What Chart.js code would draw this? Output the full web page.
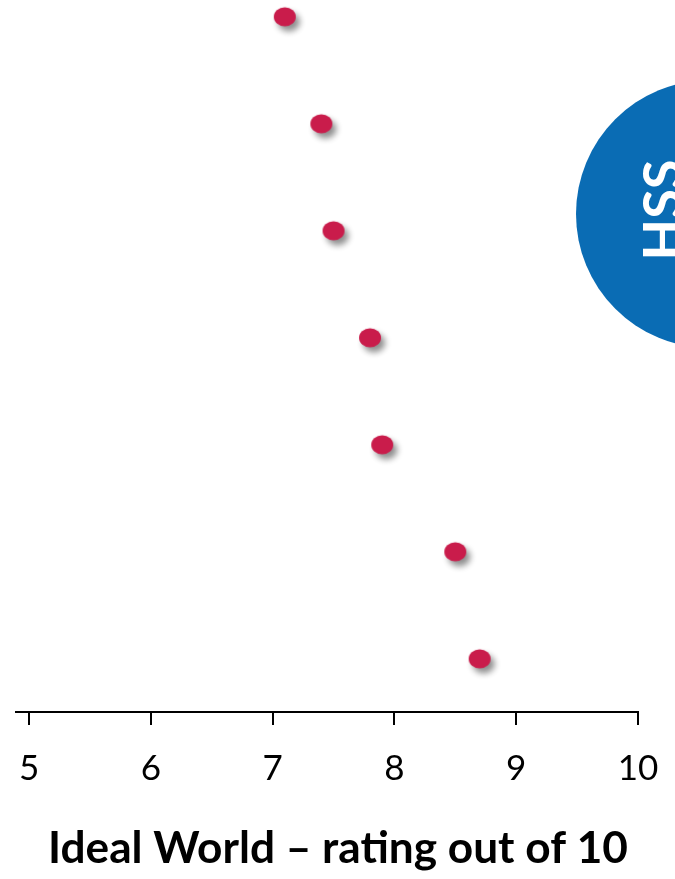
<!DOCTYPE html>
<html>
<head>
<meta charset="utf-8">
<style>
  html, body { margin: 0; padding: 0; background: #fff; }
</style>
<script src="https://cdn.jsdelivr.net/npm/chart.js"></script>
</head>
<body>
<canvas id="idealWorld" width="675" height="879"></canvas>
<script>
// rows top to bottom (category labels are not shown in the picture)
const rows = [1, 2, 3, 4, 5, 6, 7];
const ratings = [7.1, 7.4, 7.5, 7.8, 7.9, 8.5, 8.7];
const xTicks = [5, 6, 7, 8, 9, 10];
const axisTitle = 'Ideal World – rating out of 10';
const badgeText = 'HSS';

//---------------------- Helpers -----------------------//
function makeDot() {
    let c = document.createElement('canvas');
    c.width = 60;
    c.height = 60;
    let g = c.getContext('2d');
    g.shadowColor = 'rgba(0,0,0,0.45)';
    g.shadowBlur = 6;
    g.shadowOffsetX = 4;
    g.shadowOffsetY = 5;
    g.fillStyle = '#c91c4b';
    g.beginPath();
    g.ellipse(30, 30, 11, 9.5, 0, 0, Math.PI * 2);
    g.fill();
    return c;
}

// fit the bold title to the width it has in the picture
function titleFont() {
    let g = document.createElement('canvas').getContext('2d');
    g.font = 'bold 100px Lato';
    let size = 100 * 580 / g.measureText(axisTitle).width;
    return `bold ${size.toFixed(1)}px Lato`;
}

const decor = {
    id: 'decor',
    afterDraw(chart) {
        const ctx = chart.ctx;
        ctx.save();
        // blue badge on the right
        ctx.fillStyle = '#0a6cb4';
        ctx.beginPath();
        ctx.arc(710, 214, 134, 0, Math.PI * 2);
        ctx.fill();
        ctx.save();
        ctx.translate(642, 210);
        ctx.rotate(-Math.PI / 2);
        ctx.fillStyle = '#fff';
        ctx.font = 'bold 54px Lato';
        ctx.textAlign = 'center';
        ctx.textBaseline = 'alphabetic';
        ctx.fillText(badgeText, 0, 40);
        ctx.restore();
        // axis title, centred on the page
        ctx.fillStyle = '#000';
        ctx.font = titleFont();
        ctx.textAlign = 'center';
        ctx.textBaseline = 'alphabetic';
        ctx.fillText(axisTitle, 338, 863);
        ctx.restore();
    }
};

new Chart(document.getElementById('idealWorld'), {
    type: 'scatter',
    data: {
        datasets: [{
            data: ratings.map((v, i) => ({ x: v, y: rows[i] })),
            pointStyle: makeDot(),
            pointRadius: 10,
            clip: false
        }]
    },
    options: {
        responsive: false,
        animation: false,
        devicePixelRatio: 1,
        layout: { padding: { left: 16, right: 37, top: 0, bottom: 0 } },
        plugins: {
            legend: { display: false },
            tooltip: { enabled: false }
        },
        scales: {
            x: {
                type: 'linear',
                position: 'bottom',
                min: 4.893,
                max: 10,
                afterBuildTicks: (s) => { s.ticks = xTicks.map(v => ({ value: v })); },
                afterFit: (s) => { s.height = 879 - 712; },
                border: { display: true, color: '#000', width: 2 },
                grid: {
                    display: true,
                    drawOnChartArea: false,
                    drawTicks: true,
                    tickLength: 13,
                    color: '#000',
                    lineWidth: 2
                },
                ticks: {
                    color: '#000',
                    // tall line height pushes the labels down without widening the side padding
                    font: { family: 'Lato', size: 35, lineHeight: '84px' },
                    padding: 2,
                    maxRotation: 0
                }
            },
            y: {
                type: 'linear',
                display: false,
                reverse: true,
                min: 0.946,
                max: 7.497
            }
        }
    },
    plugins: [decor]
});
</script>
</body>
</html>
